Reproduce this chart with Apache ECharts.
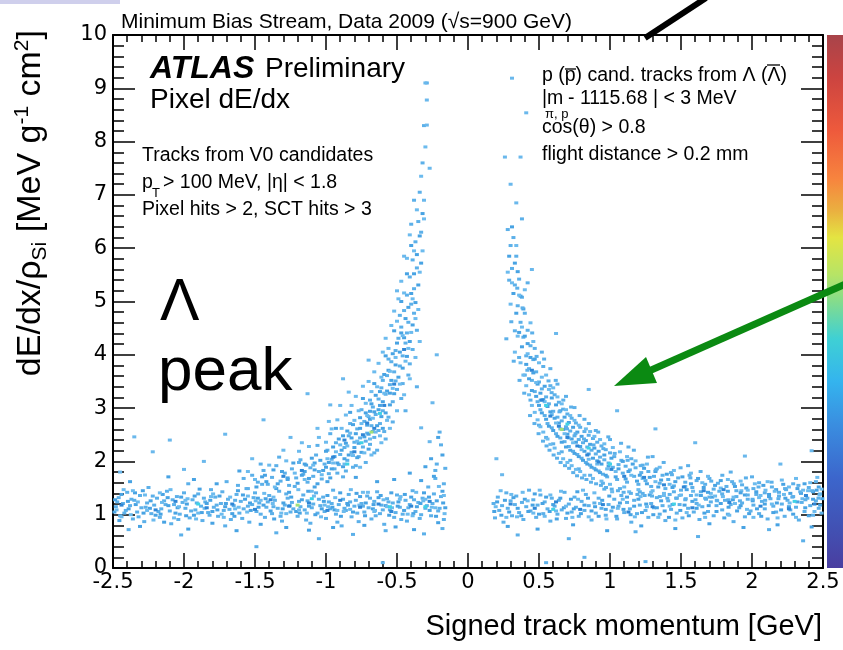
<!DOCTYPE html>
<html><head><meta charset="utf-8">
<script src="https://cdn.jsdelivr.net/npm/echarts@6/dist/echarts.min.js"></script>
<style>html,body{margin:0;padding:0;background:#fff}#c{width:843px;height:650px}</style>
</head><body><div id="c"></div>
<script>
// ---- axis ticks ----
const xTicks = [-2.5, -2, -1.5, -1, -0.5, 0, 0.5, 1, 1.5, 2, 2.5];
const yTicks = [0, 1, 2, 3, 4, 5, 6, 7, 8, 9, 10];

// ---- data: [momentum (GeV), dE/dx] pairs, flat ----
const leftBand = [
-2.48,1.15,-2.46,1.32,-2.45,0.98,-2.43,1.21,-2.41,1.08,-2.40,1.42,-2.38,1.17,-2.36,0.92,-2.35,1.27,-2.33,1.05,
-2.31,1.36,-2.30,1.13,-2.28,0.87,-2.26,1.22,-2.25,1.51,-2.23,1.02,-2.21,1.18,-2.19,1.31,-2.17,0.95,-2.16,1.11,
-2.14,1.26,-2.12,1.44,-2.10,1.07,-2.09,0.83,-2.07,1.19,-2.05,1.34,-2.03,1.01,-2.01,1.23,-1.99,1.12,-1.97,1.58,
-1.96,0.94,-1.94,1.28,-1.92,1.09,-1.90,1.39,-1.88,1.16,-1.87,0.89,-1.85,1.24,-1.83,1.04,-1.81,1.47,-1.79,1.14,
-1.78,1.33,-1.76,0.97,-1.74,1.21,-1.72,1.08,-1.70,1.62,-1.69,1.29,-1.67,0.91,-1.65,1.17,-1.63,1.38,-1.61,1.03,
-1.60,1.25,-1.58,1.11,-1.56,1.49,-1.54,0.86,-1.52,1.19,-1.51,1.32,-1.49,1.06,-1.47,1.22,-1.45,1.57,-1.43,0.95,
-1.42,1.14,-1.40,1.36,-1.38,1.02,-1.36,1.27,-1.34,1.12,-1.33,1.44,-1.31,0.88,-1.29,1.18,-1.27,1.31,-1.25,1.05,
-1.24,1.23,-1.22,1.53,-1.20,0.97,-1.18,1.15,-1.16,1.37,-1.15,1.09,-1.13,1.26,-1.11,0.84,-1.09,1.20,-1.07,1.41,
-1.06,1.03,-1.04,1.17,-1.02,1.33,-1.00,0.93,-0.98,1.24,-0.97,1.11,-0.95,1.46,-0.93,1.01,-0.91,1.19,-0.89,0.79,
-0.88,1.29,-0.86,1.08,-0.84,1.38,-0.82,0.96,-0.80,1.16,-0.79,1.27,-0.77,0.87,-0.75,1.21,-0.73,1.05,-0.71,1.35,
-0.70,1.13,-0.68,0.92,-0.66,1.25,-0.64,1.43,-0.62,1.02,-0.61,1.18,-0.59,0.82,-0.57,1.30,-0.55,1.09,-0.53,1.22,
-0.52,0.95,-0.50,1.37,-0.48,1.14,-0.46,1.01,-0.44,1.27,-0.43,0.88,-0.41,1.19,-0.39,1.45,-0.37,1.06,-0.35,1.23,
-0.34,0.93,-0.32,1.31,-0.30,1.12,-0.28,1.52,-0.26,0.98,-0.25,1.21,-0.23,1.68,-0.21,1.07,-0.19,1.34,-0.17,0.91,
-0.16,1.87,-2.47,1.24,-2.42,1.03,-2.37,1.29,-2.32,0.96,-2.27,1.14,-2.22,1.35,-2.18,1.06,-2.13,1.19,-2.08,1.28,
-2.04,0.91,-2.00,1.41,-1.95,1.07,-1.91,1.22,-1.86,1.31,-1.82,0.99,-1.77,1.18,-1.73,1.43,-1.68,1.10,-1.64,1.27,
-1.59,0.93,-1.55,1.16,-1.50,1.41,-1.46,1.01,-1.41,1.24,-1.37,1.15,-1.32,0.97,-1.28,1.39,-1.23,1.11,-1.19,1.25,
-1.14,0.90,-1.10,1.13,-1.05,1.29,-1.01,1.06,-0.96,1.21,-0.92,0.86,-0.87,1.12,-0.83,1.24,-0.78,1.03,-0.74,1.16,
-0.69,1.31,-0.65,0.98,-0.60,1.09,-0.56,1.24,-0.51,1.04,-0.47,0.91,-0.42,1.13,-0.38,1.28,-0.33,1.00,-0.29,1.17,
-0.24,1.39,-0.20,1.12,-0.18,0.74,-0.22,1.95,-0.19,2.31,-0.17,1.58,-0.20,2.55,-0.23,1.83,
-2.39,0.72,-2.02,0.62,-1.71,0.79,-1.35,0.66,-1.05,0.55,-0.81,0.63,-0.58,0.70,-0.31,0.64,-1.49,0.40,-0.60,0.10
];
const leftBand2 = [
-2.49,1.05,-2.44,1.38,-2.39,1.11,-2.34,1.19,-2.29,1.45,-2.24,1.12,-2.20,0.99,-2.15,1.38,-2.11,1.17,-2.06,1.03,
-2.02,1.33,-1.98,1.20,-1.93,0.99,-1.89,1.48,-1.84,1.21,-1.80,1.06,-1.75,1.35,-1.71,1.15,-1.66,1.02,-1.62,1.45,
-1.57,1.29,-1.53,1.08,-1.48,1.31,-1.44,1.18,-1.39,1.07,-1.35,1.49,-1.30,1.22,-1.26,1.42,-1.21,1.06,-1.17,1.28,
-1.12,1.16,-1.08,1.52,-1.03,1.11,-0.99,1.36,-0.94,1.09,-0.90,1.41,-0.85,1.21,-0.81,1.05,-0.76,1.34,-0.72,1.22,
-0.67,1.11,-0.63,1.32,-0.58,1.17,-0.54,1.41,-0.49,1.24,-0.45,1.08,-0.40,1.33,-0.36,1.15,-0.31,1.41,-0.27,1.08,
-0.22,1.26,-0.18,1.44,-0.16,1.13,
-2.485,1.28,-2.455,0.89,-2.395,1.25,-2.345,1.41,-2.285,1.03,-2.235,1.26,-2.165,1.01,-2.115,1.32,-2.045,1.13,
-1.985,0.98,-1.925,1.35,-1.875,1.04,-1.815,1.27,-1.765,1.09,-1.705,1.21,-1.645,0.97,-1.585,1.37,-1.535,1.22,
-1.475,1.14,-1.425,1.30,-1.365,0.92,-1.305,1.11,-1.245,1.33,-1.185,1.03,-1.125,1.44,-1.075,1.00,-1.015,1.25,
-0.955,1.14,-0.895,0.97,-0.845,1.18,-0.785,1.40,-0.725,0.98,-0.665,1.19,-0.615,1.36,-0.555,0.99,-0.495,1.16,
-0.445,1.38,-0.385,1.02,-0.335,1.21,-0.275,1.33,-0.225,0.97,-0.175,1.22,
-2.38,1.62,-2.11,1.71,-1.93,1.66,-1.77,1.58,-1.61,1.82,-1.43,1.74,-1.27,1.66,-1.15,1.95,-0.99,1.62,-0.79,1.70,
-0.64,1.62,-0.52,1.66,-0.41,1.78,-0.33,1.64,-0.30,1.90,-0.26,2.05,-0.24,1.72,-0.21,2.45,-0.18,2.12,
-2.31,0.78,-2.14,0.86,-1.97,0.73,-1.80,0.84,-1.63,0.70,-1.46,0.82,-1.28,0.76,-1.12,0.71,-0.95,0.76,-0.73,0.80,
-0.51,0.77,-0.38,0.72,-0.21,0.85
];
const leftBand3 = [
-2.475,1.09,-2.425,1.47,-2.375,1.00,-2.325,1.24,-2.275,1.37,-2.215,0.90,-2.155,1.23,-2.095,1.47,-2.035,1.15,
-1.975,1.30,-1.915,0.92,-1.855,1.12,-1.795,1.39,-1.735,1.01,-1.675,1.33,-1.615,1.14,-1.555,1.05,-1.495,1.26,
-1.435,1.40,-1.375,1.21,-1.315,1.03,-1.255,1.17,-1.195,1.47,-1.135,1.03,-1.085,1.35,-1.035,0.96,-0.985,1.15,
-0.935,1.32,-0.875,1.06,-0.825,1.47,-0.765,1.18,-0.705,1.42,-0.655,1.08,-0.595,1.28,-0.535,1.13,-0.475,1.34,
-0.425,1.01,-0.365,1.42,-0.315,1.26,-0.255,1.14,-0.205,1.53,-0.165,1.02,
-2.44,0.96,-2.36,1.45,-2.26,1.08,-2.17,1.41,-2.07,0.94,-1.99,1.27,-1.90,1.03,-1.81,1.34,-1.72,0.95,-1.64,1.11,
-1.55,1.35,-1.46,1.27,-1.37,1.33,-1.28,1.02,-1.19,1.09,-1.10,1.44,-1.01,1.18,-0.92,1.08,-0.83,1.10,-0.74,1.42,
-0.66,1.06,-0.57,1.15,-0.48,1.29,-0.39,0.98,-0.30,1.29,-0.23,1.13,-0.17,1.36
];
const leftCurve = [
-1.62,1.55,-1.58,1.68,-1.55,1.49,-1.52,1.74,-1.48,1.61,-1.44,1.83,-1.41,1.57,-1.38,1.70,-1.35,1.92,-1.32,1.63,
-1.29,1.78,-1.26,1.55,-1.24,1.86,-1.21,1.69,-1.18,2.03,-1.16,1.76,-1.13,1.61,-1.11,1.88,-1.09,1.72,-1.07,2.12,
-1.05,1.81,-1.03,1.67,-1.01,1.95,-0.99,2.21,-0.98,1.77,-0.96,2.04,-0.94,1.86,-0.93,2.35,-0.91,1.94,-0.90,2.13,
-0.88,1.71,-0.87,2.26,-0.85,2.02,-0.84,2.48,-0.82,2.17,-0.81,1.89,-0.80,2.36,-0.78,2.61,-0.77,2.09,-0.76,2.44,
-0.74,2.27,-0.73,2.75,-0.72,1.98,-0.71,2.53,-0.70,2.84,-0.69,2.32,-0.68,2.67,-0.67,3.02,-0.66,2.45,-0.65,2.88,
-0.64,2.21,-0.63,3.17,-0.62,2.71,-0.61,3.38,-0.60,2.95,-0.59,2.56,-0.58,3.26,-0.57,3.61,-0.56,2.83,-0.55,3.44,
-0.54,3.87,-0.53,3.12,-0.52,3.68,-0.51,4.08,-0.50,3.35,-0.49,4.31,-0.48,3.79,-0.47,4.52,-0.46,3.98,-0.45,4.83,
-0.44,4.22,-0.43,5.12,-0.42,4.61,-0.41,5.46,-0.40,4.95,-0.39,5.78,-0.38,5.24,-0.37,6.12,-0.36,5.63,-0.35,6.50,
-0.34,7.05,-0.33,6.30,-0.32,7.60,-0.31,8.30,-0.29,9.10,-0.36,3.40,-0.42,3.62,-0.47,3.18,-0.39,4.10,-0.44,2.95,
-1.46,1.95,-1.33,2.08,-1.19,1.98,-1.06,2.30,-0.97,2.52,-0.92,1.78,-0.86,1.82,-0.83,2.71,-0.79,1.92,-0.75,2.97,
-0.72,2.38,-0.69,3.15,-0.66,2.16,-0.63,2.58,-0.60,3.52,-0.58,2.42,-0.56,3.92,-0.53,2.74,-0.51,3.51,-0.48,4.74,
-0.46,3.46,-0.43,4.41,-0.41,3.83,-0.38,4.78,-0.36,4.46,-0.40,6.45,-0.38,6.90
];
const leftCurve2 = [
-1.49,1.52,-1.45,1.71,-1.42,1.62,-1.37,1.84,-1.34,1.58,-1.31,1.81,-1.27,1.69,-1.23,1.97,-1.20,1.59,-1.17,1.74,
-1.14,1.93,-1.12,1.68,-1.10,2.06,-1.08,1.84,-1.06,1.58,-1.04,2.02,-1.02,1.83,-1.00,2.19,-0.98,1.98,-0.97,1.69,
-0.95,2.27,-0.94,2.09,-0.92,1.97,-0.91,2.42,-0.89,2.21,-0.88,1.90,-0.86,2.34,-0.85,2.57,-0.84,2.12,-0.82,2.44,
-0.81,2.69,-0.80,2.26,-0.79,2.52,-0.77,2.34,-0.76,2.82,-0.75,2.17,-0.73,2.46,-0.72,2.91,-0.71,2.68,-0.70,2.23,
-0.69,2.79,-0.68,3.08,-0.67,2.56,-0.66,2.93,-0.65,3.24,-0.64,2.67,-0.63,2.97,-0.62,3.31,-0.61,2.84,-0.60,3.12,
-0.59,3.63,-0.58,2.91,-0.57,3.32,-0.56,3.71,-0.55,3.06,-0.54,3.52,-0.53,4.02,-0.52,3.27,-0.51,3.81,-0.50,4.22,
-0.49,3.58,-0.48,4.05,-0.47,4.41,-0.46,3.75,-0.45,4.32,-0.44,4.68,-0.43,3.97,-0.42,4.89,-0.41,4.25,-0.40,5.15,
-0.39,4.56,-0.38,5.52,-0.37,4.98,-0.36,5.88,-0.35,5.31,-0.34,6.23,-0.33,5.72,-0.32,6.65,-0.60,2.62,-0.70,2.51,
-0.78,2.07,-0.87,2.05,-1.00,1.89,-0.93,2.62,-0.83,2.92,-0.74,3.18,-0.66,3.46,-0.58,3.98,-0.52,4.45,-0.47,5.00,
-0.43,5.52,-0.40,6.05,-0.55,3.28,-0.62,3.05,-0.69,2.94,-0.76,2.62,-0.88,2.48,-0.96,1.86,-1.08,1.97,-1.15,1.81
];
const leftCurve3 = [
-1.55,1.81,-1.50,1.66,-1.40,1.93,-1.36,1.52,-1.28,2.01,-1.22,1.78,-1.19,2.19,-1.15,1.66,-1.12,2.28,-1.09,1.93,
-1.05,2.45,-1.03,1.75,-1.00,2.36,-0.99,2.05,-0.96,2.61,-0.95,1.97,-0.93,2.18,-0.92,2.78,-0.90,2.31,-0.89,2.62,
-0.87,1.95,-0.86,2.87,-0.85,2.29,-0.83,2.53,-0.82,3.05,-0.81,2.11,-0.80,2.77,-0.79,3.22,-0.78,2.38,-0.77,2.95,
-0.75,2.71,-0.74,3.41,-0.73,2.16,-0.72,3.09,-0.71,2.86,-0.70,3.50,-0.69,2.42,-0.68,3.31,-0.67,2.81,-0.66,3.68,
-0.65,2.55,-0.64,3.40,-0.63,3.84,-0.62,2.48,-0.61,3.58,-0.60,4.05,-0.59,3.28,-0.58,4.31,-0.57,2.77,-0.56,4.12,
-0.55,3.69,-0.54,4.55,-0.53,3.37,-0.52,4.82,-0.51,3.95,-0.50,4.63,-0.49,5.05,-0.48,3.45,-0.47,5.38,-0.46,4.36,
-0.45,5.16,-0.44,3.88,-0.43,5.81,-0.42,4.12,-0.41,6.25,-0.40,4.42,-0.39,5.05,-0.38,5.95,-0.37,4.68,-0.36,6.72,
-0.35,4.85,-0.34,5.55,-0.33,7.35,-0.32,5.95,-0.31,6.55,-0.30,7.90,-0.76,1.89,-0.68,2.12,-0.61,2.35,-0.55,2.62,
-0.50,2.95,-0.45,3.25,-0.41,3.55,-0.37,3.95,-0.34,4.25,-0.98,2.75,-0.90,3.05,-0.84,3.30,-1.06,2.62,-1.17,2.35,
-1.30,2.21,-1.52,2.05
];
const leftSparse = [
-2.35,2.46,-2.10,2.40,-2.22,2.18,-1.71,2.51,-1.44,2.78,-1.13,3.27,-0.97,3.06,-0.33,2.63,-0.27,2.37,-1.86,2.00,
-2.45,1.80,-2.00,1.85,-0.30,9.10,-0.29,8.78,-0.29,8.31,-0.27,7.50,-0.31,6.90,-0.45,5.85,-0.50,5.20,-0.70,3.90,
-0.88,3.55,-1.25,2.45,-0.25,3.10,-0.22,4.00
];
const rightBand = [
0.18,1.21,0.19,0.94,0.21,1.33,0.22,1.08,0.24,1.17,0.25,0.86,0.27,1.41,0.28,1.12,0.30,1.26,0.31,0.98,
0.33,1.19,0.34,1.35,0.36,1.04,0.38,1.23,0.39,0.91,0.41,1.15,0.43,1.46,0.44,1.07,0.46,1.28,0.48,0.95,
0.49,1.18,0.51,1.37,0.53,1.02,0.54,1.24,0.56,1.11,0.58,0.88,0.59,1.31,0.61,1.16,0.63,1.01,0.64,1.27,
0.66,1.09,0.68,1.42,0.69,0.93,0.71,1.20,0.73,1.05,0.75,1.33,0.76,1.14,0.78,0.97,0.80,1.25,0.82,1.08,
0.83,1.38,0.85,1.17,0.87,0.90,0.89,1.22,0.90,1.03,0.92,1.31,0.94,1.12,0.96,1.48,0.97,0.99,0.99,1.19,
1.01,1.07,1.03,1.29,1.05,0.92,1.06,1.16,1.08,1.36,1.10,1.04,1.12,1.23,1.14,1.11,1.15,0.86,1.17,1.27,
1.19,1.02,1.21,1.18,1.23,1.40,1.25,1.08,1.27,0.95,1.29,1.21,1.31,1.13,1.33,1.32,1.35,1.01,1.37,1.17,
1.39,0.89,1.41,1.26,1.43,1.10,1.45,1.43,1.47,1.03,1.49,1.19,1.51,0.94,1.53,1.28,1.55,1.12,1.57,1.36,
1.59,1.05,1.61,1.21,1.63,0.91,1.65,1.15,1.67,1.31,1.69,1.06,1.71,1.24,1.73,0.98,1.75,1.17,1.77,1.44,
1.79,1.09,1.81,1.27,1.83,1.01,1.85,1.19,1.87,0.87,1.89,1.34,1.91,1.13,1.93,1.22,1.95,0.96,1.97,1.29,
1.99,1.07,2.01,1.18,2.03,1.38,2.05,1.02,2.07,1.25,2.09,1.11,2.11,0.92,2.13,1.30,2.15,1.16,2.17,1.05,
2.19,1.42,2.21,1.20,2.23,0.97,2.25,1.27,2.27,1.09,2.29,1.34,2.31,1.14,2.33,0.90,2.35,1.23,2.37,1.06,
2.39,1.31,2.41,1.17,2.43,0.99,2.45,1.26,2.47,1.12,2.48,1.39,2.49,1.03,
0.35,0.62,0.71,0.55,1.18,0.68,1.62,0.59,2.12,0.72,2.36,0.51,0.55,0.10,0.82,0.20,1.25,0.12
];
const rightBand2 = [
0.185,1.06,0.205,1.24,0.235,0.99,0.26,1.27,0.29,1.05,0.32,1.32,0.35,1.12,0.375,0.98,0.40,1.29,0.425,1.06,
0.455,1.18,0.47,1.39,0.50,1.01,0.525,1.21,0.55,1.33,0.575,1.06,0.60,1.19,0.625,0.92,0.65,1.31,0.675,1.13,
0.70,1.03,0.725,1.29,0.745,1.11,0.77,1.43,0.795,1.02,0.82,1.18,0.845,1.31,0.87,1.07,0.895,1.15,0.92,0.97,
0.945,1.27,0.97,1.10,0.995,1.35,1.02,1.14,1.045,0.97,1.07,1.22,1.095,1.10,1.12,1.33,1.145,1.00,1.17,1.16,
1.20,1.29,1.225,1.04,1.255,1.20,1.28,1.37,1.305,1.00,1.33,1.13,1.36,1.26,1.385,1.07,1.415,0.95,1.44,1.19,
1.47,1.31,1.495,1.08,1.525,1.18,1.555,0.98,1.58,1.25,1.61,1.12,1.64,1.36,1.665,1.03,1.695,1.17,1.72,1.33,
1.75,1.06,1.78,1.21,1.805,0.94,1.835,1.14,1.865,1.28,1.895,1.07,1.92,1.17,1.95,1.37,1.98,1.02,2.005,1.26,
2.035,1.11,2.065,0.97,2.09,1.20,2.12,1.34,2.15,1.04,2.175,1.22,2.205,1.09,2.235,1.31,2.26,1.15,2.29,1.01,
2.32,1.24,2.345,1.40,2.375,1.13,2.40,0.98,2.43,1.29,2.455,1.46,2.48,1.18,2.495,1.30,
0.28,0.78,0.49,0.73,0.74,0.81,0.98,0.70,1.22,0.79,1.46,0.74,1.70,0.83,1.94,0.76,2.18,0.81,2.42,0.77
];
const rightBand3 = [
0.195,1.15,0.23,1.45,0.27,0.95,0.305,1.38,0.345,0.96,0.385,1.42,0.42,1.26,0.46,1.03,0.505,1.46,0.54,0.97,
0.58,1.37,0.62,1.07,0.655,1.44,0.69,1.16,0.735,0.95,0.775,1.29,0.81,1.46,0.85,0.96,0.89,1.41,0.93,1.21,
0.975,0.92,1.015,1.43,1.055,1.12,1.09,1.29,1.135,1.43,1.175,0.96,1.215,1.34,1.26,1.15,1.30,1.45,1.34,0.95,
1.38,1.36,1.42,1.16,1.46,0.90,1.50,1.37,1.54,1.04,1.585,1.44,1.625,1.18,1.67,0.95,1.71,1.40,1.755,1.26,
1.795,1.34,1.84,0.99,1.88,1.21,1.925,1.45,1.965,1.10,2.01,0.95,2.05,1.32,2.095,1.46,2.14,1.20,2.18,0.94,
2.225,1.38,2.265,1.22,2.31,0.95,2.355,1.30,2.395,1.45,2.44,1.06,2.475,1.37
];
const rightCurve = [
0.30,6.05,0.31,5.62,0.32,6.20,0.33,5.31,0.34,5.85,0.35,4.92,0.36,5.42,0.37,4.61,0.38,5.08,0.39,4.33,
0.40,4.78,0.41,3.98,0.42,4.46,0.43,3.74,0.44,4.17,0.45,3.52,0.46,3.91,0.47,3.31,0.48,3.68,0.49,3.12,
0.50,3.49,0.51,2.97,0.52,3.36,0.53,3.78,0.54,2.86,0.55,3.21,0.56,2.71,0.57,3.08,0.58,3.42,0.59,2.63,
0.60,2.94,0.61,3.25,0.62,2.52,0.63,2.83,0.64,3.11,0.65,2.44,0.66,2.76,0.67,2.98,0.68,2.37,0.69,2.65,
0.70,2.89,0.71,2.28,0.72,2.57,0.73,2.81,0.74,2.19,0.75,2.48,0.76,2.72,0.77,2.13,0.78,2.41,0.79,2.64,
0.80,2.06,0.81,2.35,0.82,2.56,0.83,1.98,0.84,2.27,0.85,2.49,0.86,1.93,0.87,2.21,0.88,2.43,0.89,1.87,
0.90,2.14,0.91,2.36,0.92,1.82,0.93,2.08,0.94,2.29,0.95,1.76,0.96,2.03,0.97,2.22,0.98,1.71,0.99,1.97,
1.00,2.16,1.02,1.89,1.03,2.09,1.05,1.66,1.06,1.94,1.08,2.02,1.09,1.78,1.11,1.91,1.12,1.61,1.14,1.84,
1.15,2.05,1.17,1.72,1.18,1.88,1.20,1.57,1.22,1.79,1.23,1.93,1.25,1.64,1.27,1.81,1.29,1.53,1.31,1.72,
1.33,1.86,1.35,1.59,1.37,1.74,1.39,1.49,1.41,1.66,1.43,1.79,1.45,1.54,1.48,1.69,1.50,1.46,1.53,1.61,
1.56,1.74,1.58,1.51,1.61,1.64,1.64,1.43,1.67,1.57,1.70,1.68,1.73,1.48,1.76,1.59,1.79,1.39,1.82,1.53,
1.86,1.62,1.89,1.45,1.93,1.56,1.97,1.37,2.01,1.49,2.05,1.60,2.09,1.41,2.14,1.52,2.19,1.35,2.24,1.47,
2.29,1.58,2.34,1.43,2.40,1.51,2.45,1.62,
0.33,4.45,0.36,3.95,0.38,6.55,0.40,3.62,0.42,5.35,0.44,3.15,0.47,4.12,0.50,2.68,0.52,4.05,0.55,2.45,
0.58,3.74,0.60,2.33,0.63,3.45,0.66,2.18,0.69,3.22,0.72,2.02,0.75,3.01,0.78,1.86,0.82,2.79,0.86,1.74,
0.90,2.58,0.95,1.59,1.00,2.41,1.07,1.49,1.13,2.27,1.21,1.43,1.30,2.09,1.42,1.38,1.55,1.92,1.70,1.33,
1.85,1.80,2.00,1.71,0.28,6.35,0.29,5.40,0.27,4.30
];
const rightCurve2 = [
0.29,5.85,0.31,6.40,0.32,5.15,0.33,5.72,0.34,4.78,0.35,5.56,0.36,4.42,0.37,5.10,0.38,4.15,0.39,4.86,
0.40,4.35,0.41,3.82,0.42,4.21,0.43,3.55,0.44,3.95,0.45,3.33,0.46,3.66,0.47,3.92,0.48,3.22,0.49,3.45,
0.50,3.05,0.51,3.28,0.52,2.91,0.53,3.16,0.54,3.41,0.55,2.79,0.56,3.03,0.57,2.66,0.58,2.93,0.59,3.19,
0.60,2.58,0.61,2.81,0.62,3.06,0.63,2.47,0.64,2.72,0.65,2.95,0.66,2.36,0.67,2.60,0.68,2.83,0.69,2.27,
0.70,2.51,0.71,2.73,0.72,2.21,0.73,2.42,0.74,2.64,0.75,2.15,0.76,2.36,0.77,2.55,0.78,2.09,0.79,2.28,
0.80,2.47,0.81,2.02,0.82,2.19,0.83,2.39,0.84,1.95,0.85,2.14,0.86,2.32,0.87,1.89,0.88,2.06,0.89,2.25,
0.90,1.84,0.91,2.01,0.92,2.19,0.93,1.79,0.94,1.95,0.96,2.12,0.97,1.74,0.99,1.91,1.01,2.06,1.04,1.71,
1.06,1.86,1.09,2.00,1.11,1.67,1.13,1.81,1.16,1.95,1.19,1.63,1.21,1.74,1.24,1.87,1.26,1.58,1.28,1.70,
1.32,1.81,1.34,1.52,1.36,1.65,1.40,1.76,1.44,1.51,1.46,1.62,1.51,1.71,1.54,1.47,1.57,1.58,1.62,1.68,
1.66,1.51,1.69,1.42,1.74,1.55,1.78,1.64,1.83,1.44,1.88,1.53,1.92,1.41,1.96,1.50,2.03,1.43,2.08,1.55,
2.12,1.38,2.17,1.47,2.22,1.57,2.27,1.40,2.32,1.49,2.37,1.58,2.43,1.43,2.47,1.52
];
const rightCurve3 = [
0.28,5.55,0.30,4.95,0.31,5.35,0.33,4.05,0.34,6.05,0.35,4.35,0.36,5.12,0.37,3.85,0.38,4.52,0.39,3.62,
0.40,5.22,0.41,3.42,0.42,4.02,0.43,3.25,0.44,4.60,0.45,3.05,0.46,4.25,0.47,2.92,0.48,3.48,0.49,2.78,
0.50,3.85,0.51,2.65,0.52,3.58,0.53,2.55,0.54,3.12,0.55,3.62,0.56,2.42,0.57,3.35,0.58,2.32,0.59,2.88,
0.60,3.38,0.61,2.25,0.62,2.72,0.63,3.21,0.64,2.15,0.65,2.61,0.66,3.08,0.67,2.05,0.68,2.52,0.69,2.97,
0.70,1.98,0.71,2.44,0.72,2.86,0.73,1.92,0.74,2.35,0.75,2.77,0.76,1.85,0.78,2.68,0.79,1.81,0.80,2.22,
0.82,1.74,0.83,2.61,0.85,2.04,0.86,2.56,0.88,1.68,0.89,2.47,0.91,1.95,0.93,2.41,0.94,1.63,0.96,2.33,
0.98,1.86,1.00,1.57,1.02,2.26,1.04,1.81,1.07,2.18,1.10,1.52,1.12,2.09,1.15,1.74,1.18,2.01,1.20,1.47,
1.23,1.68,1.26,1.95,1.29,1.42,1.32,1.62,1.35,1.89,1.38,1.40,1.42,1.57,1.45,1.83,1.49,1.36,1.53,1.53,
1.57,1.78,1.61,1.37,1.65,1.60,1.69,1.72,1.74,1.35,1.78,1.50,1.83,1.66,1.87,1.33,1.92,1.63,1.97,1.46,
2.02,1.58,2.06,1.36,2.11,1.62,2.16,1.44,2.21,1.65,2.26,1.52,2.31,1.68,2.36,1.46,2.41,1.60,2.46,1.70,
2.49,1.48
];
const rightCurve4 = [
0.305,4.62,0.322,3.88,0.347,5.25,0.363,3.52,0.384,4.88,0.396,3.28,0.418,3.71,0.437,2.86,0.452,4.41,0.468,2.71,
0.483,3.97,0.497,2.52,0.512,3.15,0.528,2.38,0.536,3.92,0.553,2.29,0.567,3.51,0.574,2.21,0.589,3.29,0.603,2.12,
0.618,3.52,0.627,2.06,0.644,2.93,0.652,1.98,0.671,3.15,0.683,1.92,0.697,2.61,0.712,1.87,0.726,3.02,0.741,1.79,
0.757,2.52,0.768,1.73,0.786,2.86,0.803,1.69,0.817,2.42,0.834,1.66,0.851,2.71,0.866,1.61,0.884,2.31,0.902,1.58,
0.917,2.55,0.936,1.55,0.953,2.24,0.972,1.51,0.988,2.46,1.012,1.48,1.033,2.15,1.056,1.45,1.078,2.34,1.096,1.42,
1.124,2.02,1.147,1.40,1.168,2.21,1.193,1.38,1.216,1.92,1.244,1.36,1.267,2.08,1.296,1.35,1.322,1.84,1.351,1.34,
1.378,1.98,1.404,1.31,1.436,1.75,1.466,1.31,1.497,1.88,1.533,1.30,1.566,1.69,1.602,1.28,1.638,1.81,1.676,1.29,
1.713,1.63,1.752,1.27,1.791,1.74,1.834,1.28,1.872,1.58,1.915,1.26,1.957,1.69,2.004,1.29,2.046,1.52,2.093,1.27,
2.138,1.61,2.186,1.30,2.233,1.49,2.284,1.33,2.327,1.55,2.376,1.28,2.423,1.45,2.468,1.31
];
const rightSparse = [
0.31,9.19,0.41,8.54,0.26,7.71,0.37,7.71,0.34,6.85,0.30,7.20,0.45,5.60,0.62,4.40,0.85,3.35,1.05,2.95,
1.32,2.61,1.60,2.35,1.95,2.10,2.20,1.95,2.42,2.20,0.20,2.05,0.24,1.75
];
const denseCells = [
-2.44,1.18,-2.20,1.09,-2.06,1.25,-1.84,1.13,-1.66,1.20,-1.50,1.10,-1.39,1.28,-1.26,1.16,-1.12,1.22,-0.99,1.08,
-0.90,1.27,-0.76,1.14,-0.63,1.20,-0.54,1.06,-0.40,1.16,-0.27,1.25,-0.95,2.08,-0.87,2.40,-0.80,2.18,-0.71,2.72,
-0.66,2.62,-0.59,3.05,-0.52,3.45,-0.45,4.10,-1.17,1.83,-1.30,1.72,-0.74,2.50,0.45,3.71,0.52,3.15,0.58,2.85,
0.64,2.66,0.70,2.45,0.77,2.29,0.84,2.12,0.92,1.99,1.01,1.85,1.10,1.72,1.24,1.70,1.38,1.56,1.52,1.52,
1.66,1.45,1.80,1.47,0.30,1.20,0.47,1.12,0.62,1.24,0.79,1.10,0.95,1.19,1.13,1.05,1.30,1.15,1.58,1.13,
1.84,1.23,2.06,1.16,2.26,1.11,2.38,1.36,2.44,1.20
];
const peakCells = [
-0.75,2.35,-0.62,2.90,-0.85,1.95,-1.10,1.30,-0.55,1.15,-1.90,1.20,-0.30,1.15,0.60,1.10,0.70,2.70,0.85,2.25,
1.00,1.95,2.30,1.25,1.45,1.20,0.55,3.05
];
const hotCells = [-0.68,2.55, 0.66,2.60, -1.20,1.18];

function pairs(a){const r=[];for(let i=0;i+1<a.length;i+=2)r.push([a[i],a[i+1]]);return r;}

const chart = echarts.init(document.getElementById('c'), null, {renderer:'canvas'});
const FONT = 'Liberation Sans, Arial, Helvetica, sans-serif';
const TICKFONT = 'DejaVu Sans, Liberation Sans, sans-serif';
const L=113, T=35, W=710, H=533;
const DOT = [4,3];

const dotSeries = (name, data, color) => ({
  name, type:'scatter', xAxisIndex:0, yAxisIndex:0, data: pairs(data),
  symbol:'rect', symbolSize:DOT, itemStyle:{color, opacity:1}, silent:true, animation:false
});

const axCommon = {
  type:'value', splitLine:{show:false},
  axisLine:{show:true, onZero:false, lineStyle:{color:'#000', width:2}},
};

const txt = (x, y, text, size, extra) => Object.assign({type:'text', x, y, z:10,
  style:{text, font:size+'px '+FONT, fill:'#000', textAlign:'left', textVerticalAlign:'middle'}}, extra||{});

chart.setOption({
  animation:false,
  backgroundColor:'#fff',
  grid:{left:L, top:T, width:W, height:H, containLabel:false},
  xAxis:[
    Object.assign({}, axCommon, {position:'bottom', min:xTicks[0], max:xTicks[xTicks.length-1], interval:0.5,
      axisTick:{show:true, inside:true, length:15, lineStyle:{color:'#000', width:1.5}},
      minorTick:{show:true, splitNumber:5, length:7, lineStyle:{color:'#000', width:1.5}},
      axisLabel:{show:true, margin:4, color:'#000', fontFamily:TICKFONT, fontSize:21,
        formatter: v => String(+v.toFixed(2))}}),
    Object.assign({}, axCommon, {position:'top', min:xTicks[0], max:xTicks[xTicks.length-1], interval:0.5,
      axisTick:{show:true, inside:true, length:15, lineStyle:{color:'#000', width:1.5}},
      minorTick:{show:true, splitNumber:5, length:7, lineStyle:{color:'#000', width:1.5}},
      axisLabel:{show:false}})
  ],
  yAxis:[
    Object.assign({}, axCommon, {position:'left', min:yTicks[0], max:yTicks[yTicks.length-1], interval:1,
      axisTick:{show:true, inside:true, length:22, lineStyle:{color:'#000', width:1.5}},
      minorTick:{show:true, splitNumber:5, length:11, lineStyle:{color:'#000', width:1.5}},
      axisLabel:{show:true, margin:6, color:'#000', fontFamily:TICKFONT, fontSize:21}}),
    Object.assign({}, axCommon, {position:'right', min:yTicks[0], max:yTicks[yTicks.length-1], interval:1,
      axisTick:{show:true, inside:true, length:22, lineStyle:{color:'#000', width:1.5}},
      minorTick:{show:true, splitNumber:5, length:11, lineStyle:{color:'#000', width:1.5}},
      axisLabel:{show:false}})
  ],
  series:[
    dotSeries('band-', leftBand, '#5cb0e9'),
    dotSeries('band-b', leftBand2, '#48a3e3'),
    dotSeries('band-c', leftBand3, '#6cbbee'),
    dotSeries('curve-', leftCurve, '#5cb0e9'),
    dotSeries('curve-b', leftCurve2, '#48a3e3'),
    dotSeries('curve-c', leftCurve3, '#6cbbee'),
    dotSeries('sparse-', leftSparse, '#6ab8ec'),
    dotSeries('band+', rightBand, '#5cb0e9'),
    dotSeries('band+b', rightBand2, '#48a3e3'),
    dotSeries('band+c', rightBand3, '#6cbbee'),
    dotSeries('curve+', rightCurve, '#5cb0e9'),
    dotSeries('curve+b', rightCurve2, '#48a3e3'),
    dotSeries('curve+c', rightCurve3, '#6cbbee'),
    dotSeries('curve+d', rightCurve4, '#5cb0e9'),
    dotSeries('sparse+', rightSparse, '#6ab8ec'),
    dotSeries('dense', denseCells, '#2f86d6'),
    dotSeries('peak', peakCells, '#3fd2e6'),
    dotSeries('hot', hotCells, '#9fe07a')
  ],
  graphic:[
    {type:'rect', left:0, top:0, shape:{width:120, height:4}, style:{fill:'#cfcfec'}, z:1},
    {type:'rect', shape:{x:827, y:T, width:20, height:H}, z:5,
     style:{fill:new echarts.graphic.LinearGradient(0,0,0,1,[
       {offset:0,color:'#a8444a'},{offset:0.08,color:'#cc4440'},{offset:0.18,color:'#ee5a3c'},
       {offset:0.27,color:'#f7843e'},{offset:0.33,color:'#eab040'},{offset:0.38,color:'#e4e442'},
       {offset:0.45,color:'#b6e466'},{offset:0.50,color:'#84dc8c'},{offset:0.57,color:'#3fd0d4'},
       {offset:0.65,color:'#34b4ee'},{offset:0.73,color:'#3a8ee0'},{offset:0.83,color:'#3c66cc'},
       {offset:0.93,color:'#4250b2'},{offset:1,color:'#4a3ea0'}])}},
    txt(121, 22, 'Minimum Bias Stream, Data 2009 (√s=900 GeV)', 21),
    {type:'text', x:150, y:69, z:10, style:{text:'ATLAS', font:'italic bold 32px '+FONT, fill:'#000', textAlign:'left', textVerticalAlign:'middle'}},
    txt(265, 69, 'Preliminary', 28),
    txt(150, 100, 'Pixel dE/dx', 28),
    txt(142, 156, 'Tracks from V0 candidates', 19.5),
    txt(142, 183, 'p', 19.5),
    txt(152, 193, 'T', 13),
    txt(163, 183, '> 100 MeV, |η| < 1.8', 19.5),
    txt(142, 210, 'Pixel hits > 2, SCT hits > 3', 19.5),
    txt(542, 76, 'p (p) cand. tracks from Λ (Λ)', 19.5),
    {type:'line', z:10, shape:{x1:565, y1:69, x2:576, y2:69}, style:{stroke:'#000', lineWidth:1.3}},
    {type:'line', z:10, shape:{x1:767, y1:65, x2:780, y2:65}, style:{stroke:'#000', lineWidth:1.3}},
    txt(542, 99, '|m', 19.5),
    txt(545, 114, 'π, p', 13),
    txt(568, 99, '- 1115.68 | < 3 MeV', 19.5),
    txt(542, 128, 'cos(θ) > 0.8', 19.5),
    txt(542, 155, 'flight distance > 0.2 mm', 19.5),
    txt(160, 304, 'Λ', 59),
    txt(158, 373, 'peak', 62),
    {type:'text', x:822, y:627, z:10, style:{text:'Signed track momentum [GeV]', font:'29px '+FONT, fill:'#000', textAlign:'right', textVerticalAlign:'middle'}},
    {type:'text', x:31, y:30, rotation:Math.PI/2, z:10, style:{
      text:'{a|dE/dx/ρ}{sub|Si}{a| [MeV g}{sup|-1}{a| cm}{sup|2}{a|]}',
      textAlign:'right', textVerticalAlign:'middle', fill:'#000',
      rich:{a:{fontSize:34, fontFamily:FONT, fill:'#000'},
            sub:{fontSize:21, fontFamily:FONT, fill:'#000', padding:[18,0,0,0]},
            sup:{fontSize:21, fontFamily:FONT, fill:'#000', padding:[0,0,18,0]}}}},
    {type:'line', z:12, shape:{x1:645, y1:38, x2:706, y2:-2}, style:{stroke:'#000', lineWidth:6}},
    {type:'line', z:12, shape:{x1:850, y1:282, x2:640, y2:375}, style:{stroke:'#0b8a12', lineWidth:7}},
    {type:'polygon', z:12, shape:{points:[[614,386],[646,357],[657,383]]}, style:{fill:'#0b8a12'}}
  ]
});
</script></body></html>
